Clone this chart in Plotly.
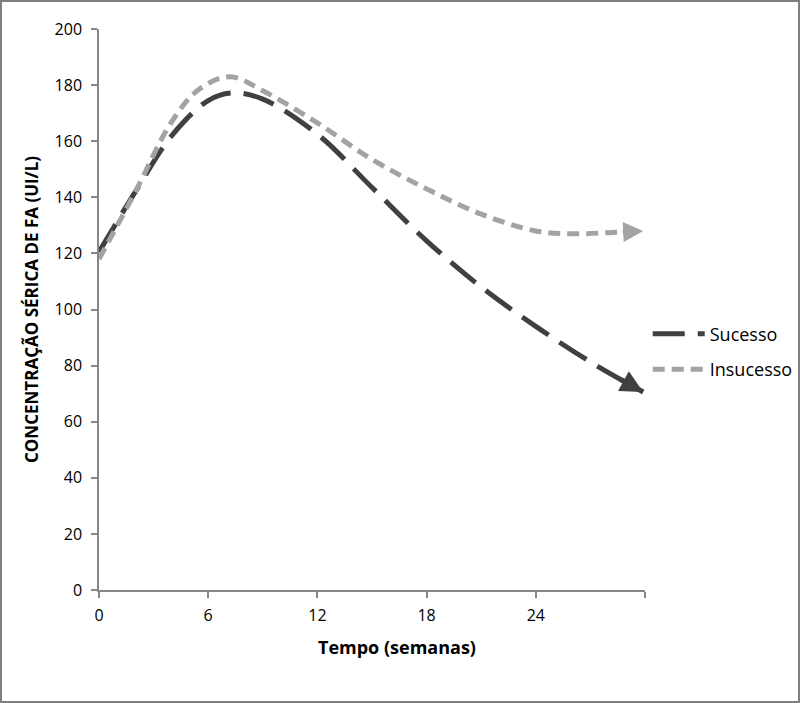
import plotly.graph_objects as go

# Data
sucesso_x = [0, 2, 4, 6, 7.3, 9, 12, 15, 18, 21, 24, 27, 29.9]
sucesso_y = [120.5, 142, 162, 174.5, 177.2, 175, 162.5, 143.5, 124.5, 108, 94, 81.3, 70.6]

insucesso_x = [0, 2, 4, 5.5, 7.2, 9, 12, 15, 18, 21, 24, 26, 28, 29.9]
insucesso_y = [118, 142, 167, 178.5, 183, 178, 166.5, 153.5, 143, 134, 128, 127, 127.4, 128]

x_tickvals = [0, 6, 12, 18, 24, 30]
x_ticktext = ["0", "6", "12", "18", "24", ""]
y_tickvals = [0, 20, 40, 60, 80, 100, 120, 140, 160, 180, 200]

DARK = "#404040"
LIGHT = "#a3a3a3"
FONT = "Open Sans, sans-serif"

fig = go.Figure()
fig.add_trace(go.Scatter(
    x=sucesso_x, y=sucesso_y, mode="lines", name="Sucesso", legendgroup="a",
    line=dict(color=DARK, width=5, dash="32px,13px", shape="spline", smoothing=1.0),
))
fig.add_trace(go.Scatter(
    x=insucesso_x, y=insucesso_y, mode="lines", name="Insucesso", legendgroup="b",
    line=dict(color=LIGHT, width=5, dash="12px,7px", shape="spline", smoothing=1.0),
))

# arrowheads at the ends of the curves
fig.add_annotation(x=sucesso_x[-1], y=sucesso_y[-1], ax=28.6, ay=75.2,
                   xref="x", yref="y", axref="x", ayref="y", text="", showarrow=True,
                   arrowhead=2, arrowsize=0.9, arrowwidth=5, arrowcolor=DARK, standoff=0)
fig.add_annotation(x=insucesso_x[-1], y=insucesso_y[-1], ax=28.7, ay=127.6,
                   xref="x", yref="y", axref="x", ayref="y", text="", showarrow=True,
                   arrowhead=2, arrowsize=0.8, arrowwidth=5, arrowcolor=LIGHT, standoff=0)

# x-axis title placed as in the reference
fig.add_annotation(x=0.546, y=-0.102, xref="paper", yref="paper", text="<b>Tempo (semanas)</b>",
                   showarrow=False, font=dict(size=18, color="black", family=FONT),
                   xanchor="center", yanchor="middle")

# outer frame
fig.add_shape(type="rect", xref="paper", yref="paper",
              x0=-98 / 546, x1=700 / 546, y0=(590 - 702) / 561, y1=589 / 561,
              line=dict(color="#7f7f7f", width=2))

fig.update_layout(
    width=800, height=703,
    margin=dict(l=99, r=155, t=29, b=113, autoexpand=False),
    paper_bgcolor="white", plot_bgcolor="white",
    font=dict(family=FONT, size=15, color="black"),
    showlegend=True,
    legend=dict(x=1.005, y=0.425, xanchor="left", yanchor="middle",
                font=dict(size=18, color="black", family=FONT),
                tracegroupgap=9, itemwidth=52, bgcolor="rgba(0,0,0,0)"),
    xaxis=dict(range=[0, 30], tickvals=x_tickvals, ticktext=x_ticktext, automargin=False,
               showgrid=False, zeroline=False, showline=True, linecolor="#868686", linewidth=1.5,
               ticks="outside", ticklen=6, tickcolor="#868686", tickwidth=1.5,
               ticklabelstandoff=4,
               tickfont=dict(size=16, color="black", family=FONT)),
    yaxis=dict(range=[0, 200], tickvals=y_tickvals, automargin=False,
               showgrid=False, zeroline=False, showline=True, linecolor="#868686", linewidth=1.5,
               ticks="outside", ticklen=6, tickcolor="#868686", tickwidth=1.5,
               ticklabelstandoff=6,
               tickfont=dict(size=16, color="black", family=FONT),
               title=dict(text="<b>CONCENTRAÇÃO SÉRICA DE FA (UI/L)</b>",
                          font=dict(size=17, color="black", family=FONT), standoff=12)),
)

fig.write_html("out.html", config={"displayModeBar": False},
               post_script="document.body.style.margin='0px';document.body.style.overflow='hidden';")
